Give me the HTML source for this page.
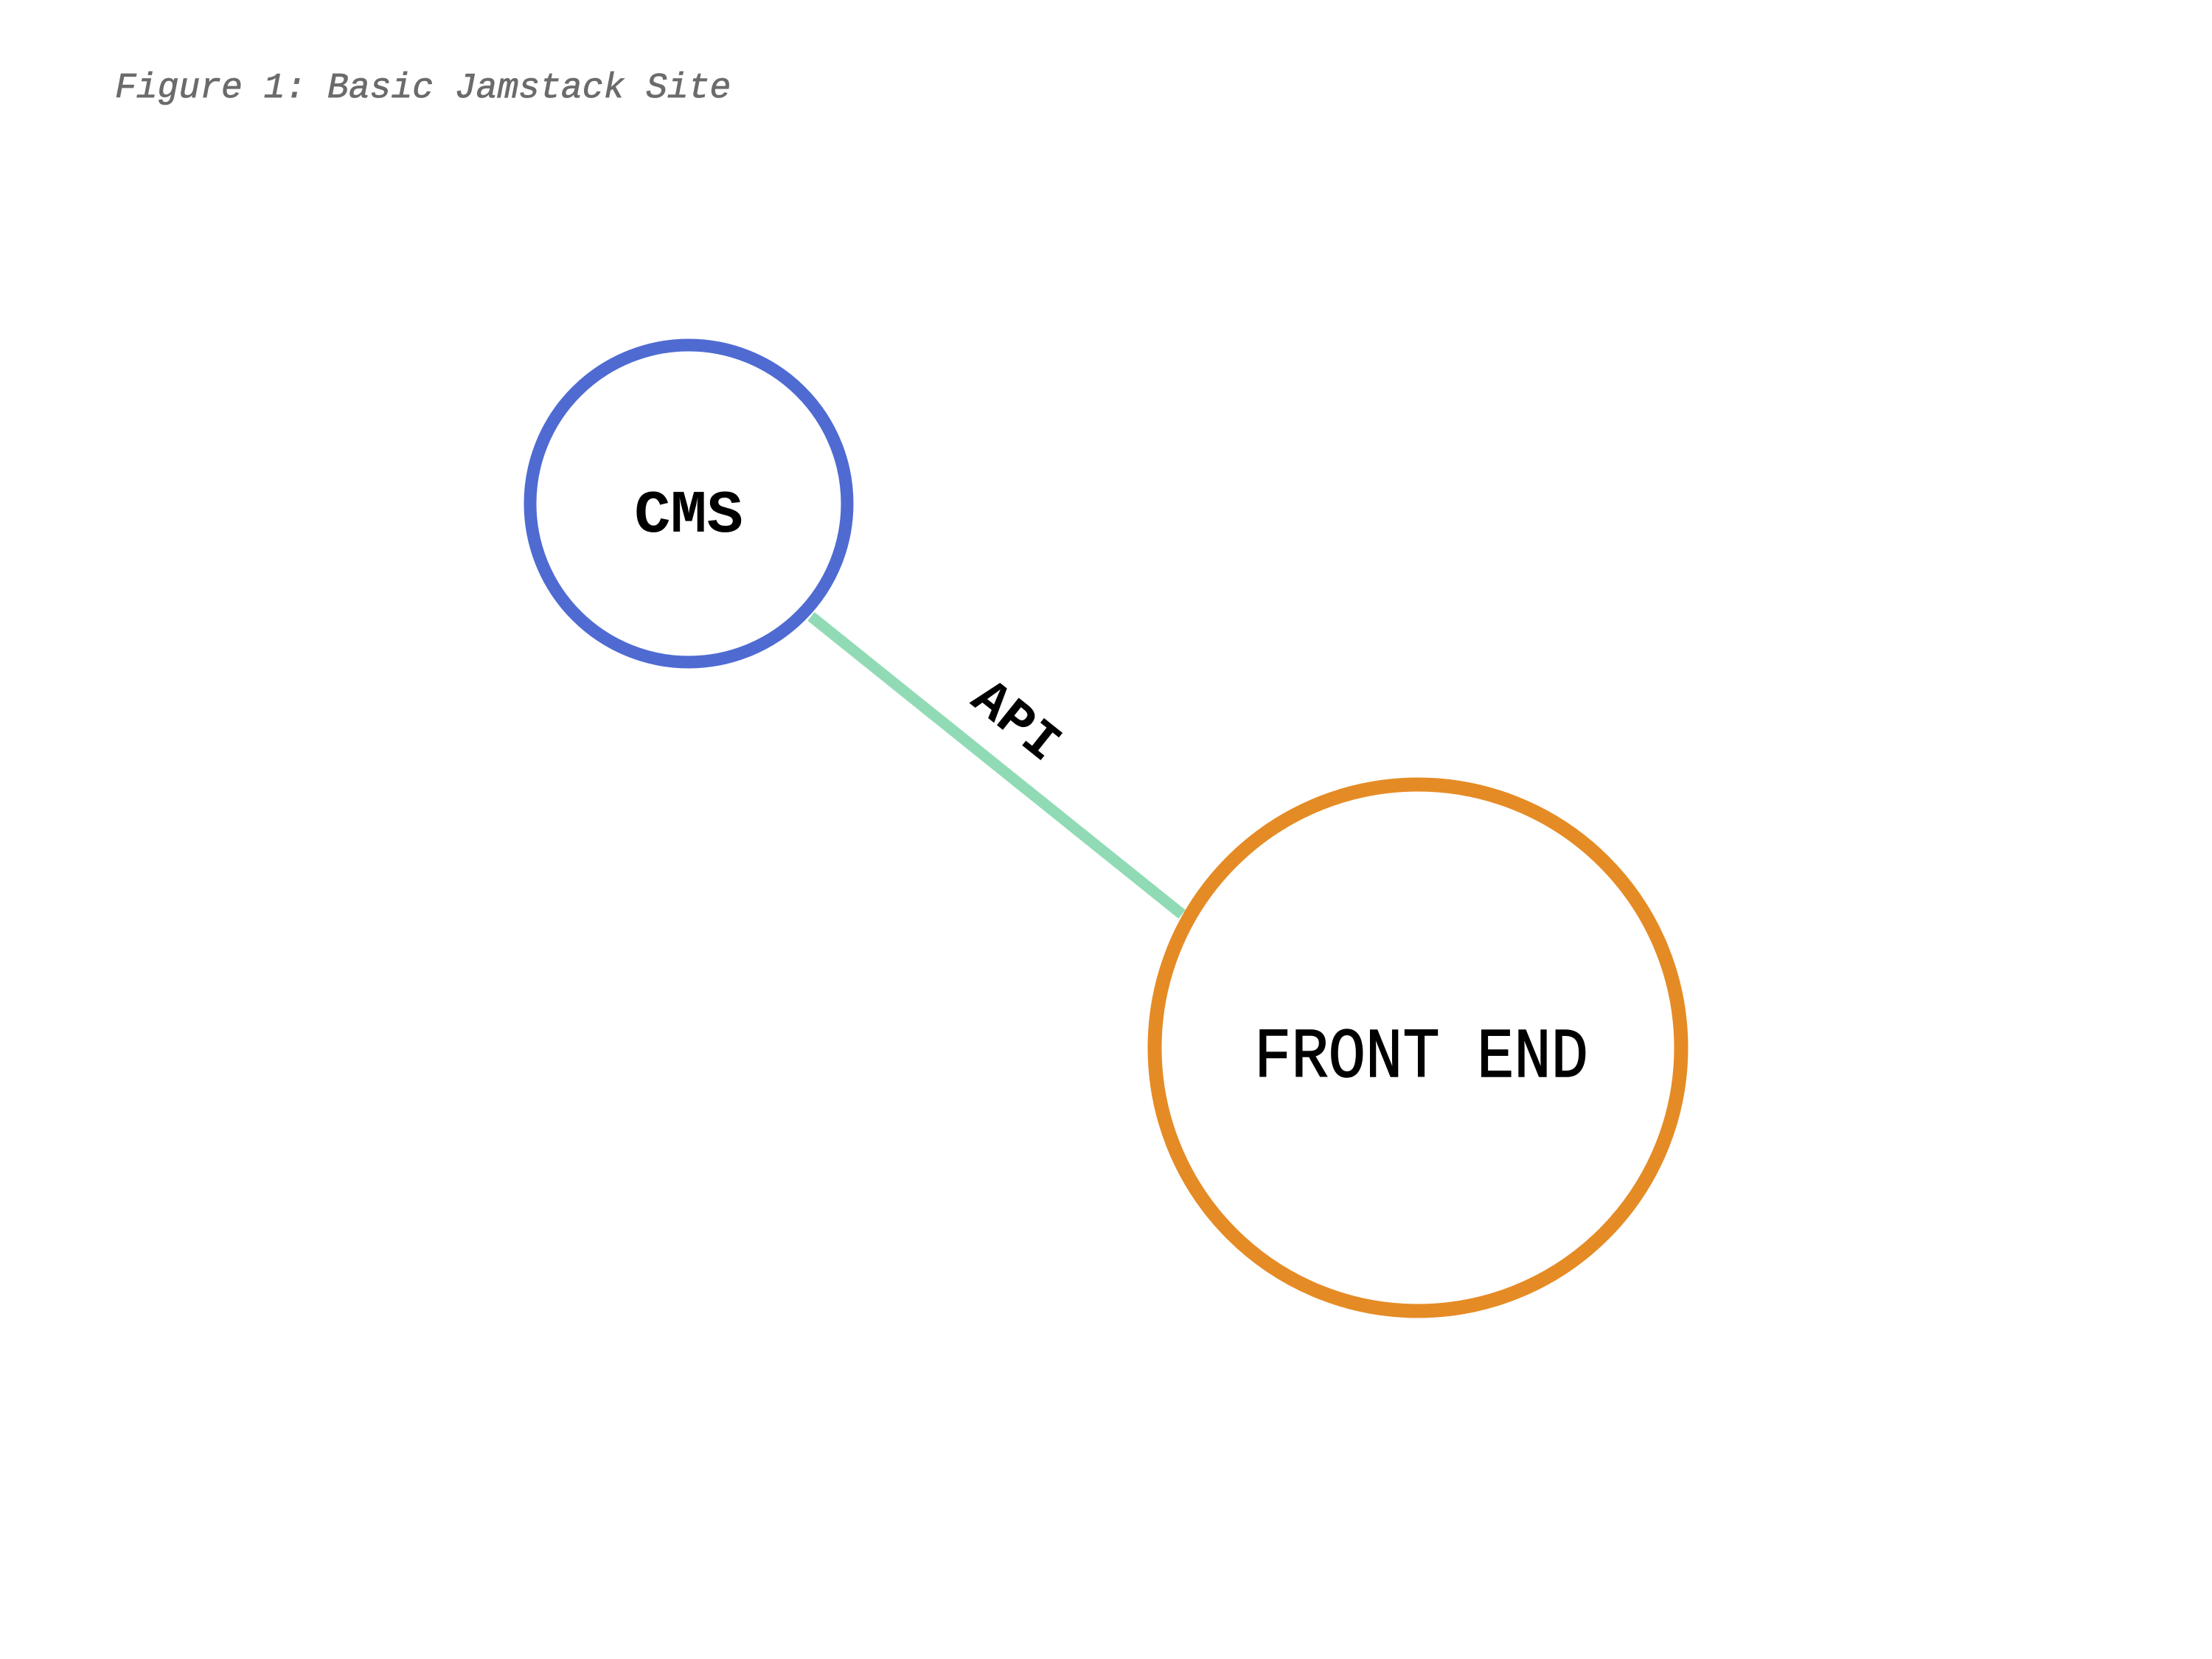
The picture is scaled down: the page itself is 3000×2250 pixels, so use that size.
<!DOCTYPE html>
<html><head><meta charset="utf-8"><style>html,body{margin:0;padding:0;background:#fff}svg{display:block}</style></head>
<body>
<svg width="3000" height="2250" viewBox="0 0 3000 2250" xmlns="http://www.w3.org/2000/svg">
<rect width="3000" height="2250" fill="#fff"/>
<text x="156" y="132" font-family="Liberation Mono, monospace" font-style="italic" font-size="48" fill="#6b6b6b" stroke="#6b6b6b" stroke-width="0.8">Figure 1: Basic Jamstack Site</text>
<line x1="1100" y1="836" x2="1603" y2="1240" stroke="#90dbb5" stroke-width="15"/>
<text x="0" y="0" transform="translate(1377,979) rotate(38.7)" text-anchor="middle" dominant-baseline="middle" font-family="Liberation Mono, monospace" font-weight="bold" font-size="72" fill="#000">API</text>
<circle cx="934" cy="683" r="215" fill="#fff" stroke="#4f6bd2" stroke-width="17"/>
<text x="934" y="721" text-anchor="middle" font-family="Liberation Mono, monospace" font-weight="bold" font-size="82" fill="#000">CMS</text>
<circle cx="1923" cy="1421" r="357" fill="#fff" stroke="#e58b25" stroke-width="19"/>
<text x="1701" y="1460" textLength="453" lengthAdjust="spacingAndGlyphs" font-family="Liberation Mono, monospace" font-size="96" fill="#000" stroke="#000" stroke-width="1.5">FRONT END</text>
</svg>
</body></html>
